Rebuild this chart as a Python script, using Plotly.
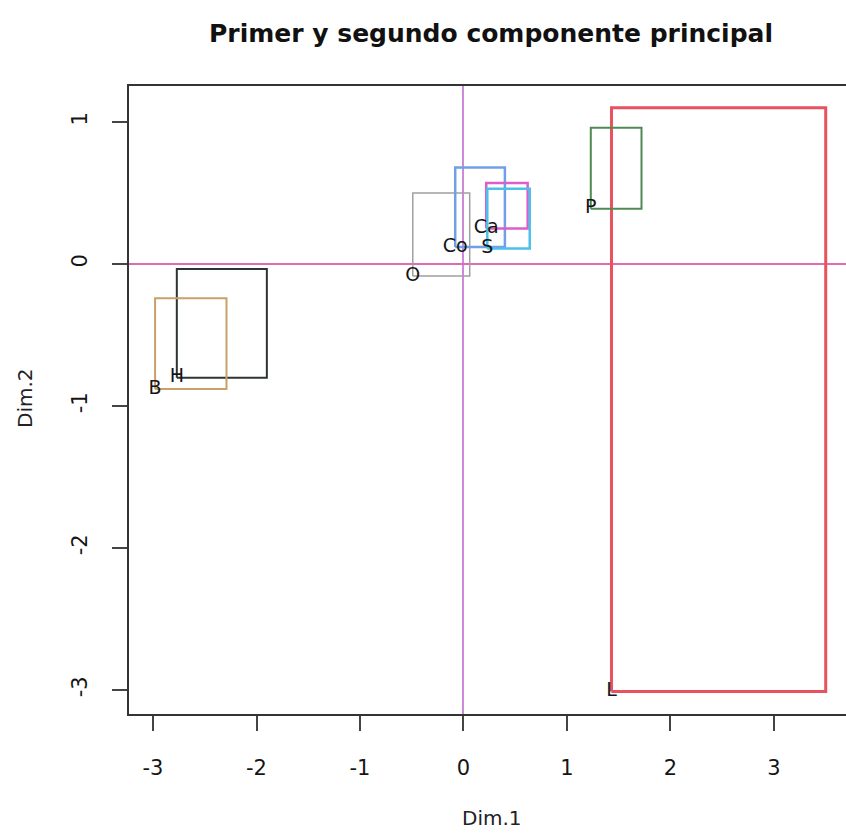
import plotly.graph_objects as go

# Symbolic (interval) PCA: rectangles on Dim.1 x Dim.2
labels = ["L", "P", "H", "B", "O", "Co", "Ca", "S"]
dim1_min = [1.43, 1.23, -2.77, -2.98, -0.49, -0.08, 0.22, 0.23]
dim1_max = [3.50, 1.72, -1.90, -2.29, 0.06, 0.40, 0.62, 0.64]
dim2_min = [-3.01, 0.39, -0.80, -0.88, -0.085, 0.12, 0.25, 0.11]
dim2_max = [1.10, 0.96, -0.035, -0.24, 0.50, 0.68, 0.57, 0.53]
colors = ["#e8525e", "#4f8a50", "#2e3333", "#c9a066", "#a0a0a0", "#6f9fe8", "#dd5ec8", "#4cc0ea"]
widths = [3, 2, 2, 2, 1.5, 2.5, 2.5, 2.5]

x_ticks = [-3, -2, -1, 0, 1, 2, 3]
y_ticks = [-3, -2, -1, 0, 1]

FONT = "DejaVu Sans, Liberation Sans, Arial, sans-serif"

fig = go.Figure()
for lab, x1, x2, y1, y2, c, w in zip(labels, dim1_min, dim1_max, dim2_min, dim2_max, colors, widths):
    fig.add_trace(go.Scatter(
        x=[x1, x2, x2, x1, x1], y=[y1, y1, y2, y2, y1],
        mode="lines", line=dict(color=c, width=w), hoverinfo="skip", showlegend=False))
for lab, x1, y1 in zip(labels, dim1_min, dim2_min):
    fig.add_trace(go.Scatter(
        x=[x1], y=[y1], mode="text", text=[lab], textposition="middle center",
        textfont=dict(family=FONT, size=19, color="#151515"), showlegend=False))

axis_common = dict(
    showline=True, linecolor="#333", linewidth=2,
    ticks="outside", ticklen=15, tickwidth=2, tickcolor="#444",
    showgrid=False, tickfont=dict(family=FONT, size=21, color="#151515"),
)
fig.update_xaxes(range=[-3.232, 3.696], tickvals=x_ticks, ticktext=[str(v) for v in x_ticks],
                 zeroline=True, zerolinecolor="#cc8ad8", zerolinewidth=1.5, mirror=True,
                 ticklabelstandoff=19, **axis_common)
fig.update_yaxes(range=[-3.169, 1.254], tickvals=y_ticks, ticktext=[str(v) for v in y_ticks],
                 zeroline=True, zerolinecolor="#e06ab4", zerolinewidth=1.5, mirror=False,
                 tickangle=-90, ticklabelstandoff=17, **axis_common)

fig.update_layout(
    width=846, height=833,
    margin=dict(l=129, r=0, t=86, b=119),
    plot_bgcolor="white", paper_bgcolor="white",
    title=dict(text="<b>Primer y segundo componente principal</b>",
               font=dict(family=FONT, size=25, color="#111"),
               xref="paper", x=(491 - 129) / 717, xanchor="center",
               yref="container", y=1 - 33 / 833, yanchor="middle"),
    annotations=[
        dict(text="Dim.1", xref="paper", yref="paper", x=(492 - 129) / 717, y=-(818 - 714) / 628,
             xanchor="center", yanchor="middle", showarrow=False,
             font=dict(family=FONT, size=20, color="#222")),
        dict(text="Dim.2", xref="paper", yref="paper", x=-(129 - 25) / 717, y=(714 - 398) / 628,
             xanchor="center", yanchor="middle", textangle=-90, showarrow=False,
             font=dict(family=FONT, size=20, color="#222")),
    ],
)
fig.write_html("out.html")
